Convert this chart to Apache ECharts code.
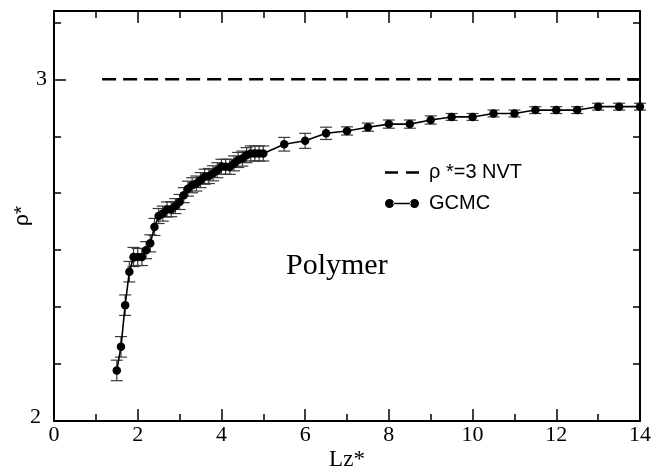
<!DOCTYPE html>
<html>
<head>
<meta charset="utf-8">
<script src="https://cdn.jsdelivr.net/npm/echarts@6/dist/echarts.min.js"></script>
<style>
  html, body { margin: 0; padding: 0; background: #fff; }
  #chart { width: 653px; height: 469px; }
</style>
</head>
<body>
<div id="chart"></div>
<script>
// Slit width Lz* (reduced units)
const lz = [1.5, 1.6, 1.7, 1.8, 1.9, 2.0, 2.1, 2.2, 2.3, 2.4,
            2.5, 2.6, 2.7, 2.8, 2.9, 3.0, 3.1, 3.2, 3.3, 3.4,
            3.5, 3.6, 3.7, 3.8, 3.9, 4.0, 4.1, 4.2, 4.3, 4.4,
            4.5, 4.6, 4.7, 4.8, 4.9, 5.0, 5.5, 6.0, 6.5, 7.0,
            7.5, 8.0, 8.5, 9.0, 9.5, 10.0, 10.5, 11.0, 11.5, 12.0,
            12.5, 13.0, 13.5, 14.0];
// GCMC average density rho*
const rho = [2.148, 2.217, 2.339, 2.437, 2.480, 2.480, 2.480, 2.500, 2.520, 2.568,
             2.600, 2.607, 2.619, 2.620, 2.629, 2.641, 2.661, 2.680, 2.690, 2.695,
             2.705, 2.715, 2.717, 2.725, 2.734, 2.744, 2.744, 2.744, 2.754, 2.764,
             2.768, 2.778, 2.783, 2.783, 2.783, 2.783, 2.810, 2.820, 2.842, 2.849,
             2.860, 2.869, 2.869, 2.881, 2.890, 2.890, 2.900, 2.900, 2.910, 2.910,
             2.910, 2.920, 2.920, 2.920];
// half-width of the error bars
const rhoErr = [0.030, 0.030, 0.030, 0.030, 0.028, 0.025, 0.025, 0.025, 0.025, 0.025,
                0.022, 0.022, 0.022, 0.022, 0.022, 0.022, 0.022, 0.022, 0.022, 0.022,
                0.022, 0.022, 0.022, 0.022, 0.022, 0.022, 0.022, 0.022, 0.022, 0.022,
                0.022, 0.022, 0.022, 0.022, 0.022, 0.022, 0.020, 0.022, 0.018, 0.012,
                0.012, 0.012, 0.012, 0.012, 0.010, 0.010, 0.010, 0.010, 0.010, 0.010,
                0.010, 0.010, 0.010, 0.010];
// bulk NVT reference density
const nvtRho = 3;
const nvtRange = [1.15, 14];

const xTickLabels = ['0', '2', '4', '6', '8', '10', '12', '14'];
const yTickLabels = { 2: '2', 3: '3' };

const serif = '"Liberation Serif", "Times New Roman", serif';
const sans = '"Liberation Sans", Arial, sans-serif';

const gcmcPoints = lz.map((x, i) => [x, rho[i]]);
const errPoints = lz.map((x, i) => [x, rho[i], rhoErr[i]]);

const chart = echarts.init(document.getElementById('chart'), null, { renderer: 'canvas' });

const frameLine = { show: true, onZero: false, lineStyle: { color: '#000', width: 2 } };

function xAxisBase(pos, labels) {
  return {
    type: 'value', position: pos, min: 0, max: 14, interval: 2,
    axisLine: frameLine,
    axisTick: { show: true, inside: true, length: 12, lineStyle: { color: '#000', width: 1.5 } },
    minorTick: { show: true, splitNumber: 2, length: 7, lineStyle: { color: '#000', width: 1.5 } },
    splitLine: { show: false },
    axisLabel: labels ? {
      show: true, margin: 3, color: '#000', fontFamily: serif, fontSize: 22,
      formatter: v => xTickLabels[Math.round(v / 2)] || ''
    } : { show: false }
  };
}
function yAxisBase(pos, labels) {
  return {
    type: 'value', position: pos, min: 2, max: 3.2, interval: 1,
    axisLine: frameLine,
    axisTick: { show: true, inside: true, length: 12, lineStyle: { color: '#000', width: 1.5 } },
    minorTick: { show: true, splitNumber: 6, length: 7, lineStyle: { color: '#000', width: 1.5 } },
    splitLine: { show: false },
    axisLabel: labels ? {
      show: true, margin: 7, color: '#000', fontFamily: serif, fontSize: 22,
      formatter: v => {
        const k = Math.round(v * 1000) / 1000;
        if (k === 2) return '{low|' + yTickLabels[2] + '}';
        return yTickLabels[k] || '';
      },
      rich: { low: { fontFamily: serif, fontSize: 22, color: '#000', padding: [0, 6, 7, 0] } }
    } : { show: false }
  };
}

const xMain = xAxisBase('bottom', true);
xMain.name = 'Lz*';
xMain.nameLocation = 'middle';
xMain.nameGap = 27;
xMain.nameMoveOverlap = false;
xMain.nameTextStyle = { fontFamily: serif, fontSize: 23, color: '#000' };

const yMain = yAxisBase('left', true);
yMain.name = 'ρ*';
yMain.nameLocation = 'middle';
yMain.nameRotate = 90;
yMain.nameGap = 21;
yMain.nameMoveOverlap = false;
yMain.nameTextStyle = { fontFamily: sans, fontSize: 21, color: '#000' };

// legend glyphs: two dashes, and dot-line-dot
const nvtIcon = 'path://M0,0L0.01,0L0.01,0.01Z M0,3.2L13,3.2L13,5.8L0,5.8Z M21,3.2L34,3.2L34,5.8L21,5.8Z M33.99,8.99L34,8.99L34,9Z';
const gcmcIcon = 'path://M0,4.5a4.5,4.5 0 1,0 9,0a4.5,4.5 0 1,0 -9,0z M8,3.8L26,3.8L26,5.2L8,5.2z M25,4.5a4.5,4.5 0 1,0 9,0a4.5,4.5 0 1,0 -9,0z';

chart.setOption({
  animation: false,
  backgroundColor: '#fff',
  grid: { left: 54, right: 13, top: 11, bottom: 48, containLabel: false, outerBoundsMode: 'none' },
  xAxis: [xMain, xAxisBase('top', false)],
  yAxis: [yMain, yAxisBase('right', false)],
  legend: {
    orient: 'vertical', left: 385, top: 162, itemGap: 10, padding: 0,
    itemWidth: 34, itemHeight: 9,
    textStyle: { fontFamily: sans, fontSize: 20, color: '#000', padding: [0, 0, 0, 5], lineHeight: 21 },
    data: [
      { name: 'ρ *=3 NVT', icon: nvtIcon },
      { name: 'GCMC', icon: gcmcIcon }
    ]
  },
  graphic: [{
    type: 'text', left: 286, top: 251,
    style: { text: 'Polymer', fontFamily: serif, fontSize: 30, fill: '#000' }
  }],
  series: [
    {
      name: 'ρ *=3 NVT', type: 'line', xAxisIndex: 0, yAxisIndex: 0,
      data: [[nvtRange[0], nvtRho], [nvtRange[1], nvtRho]],
      showSymbol: false, symbol: 'none',
      lineStyle: { color: '#000', width: 2.5, type: [14, 7] },
      itemStyle: { color: '#000' }, z: 3
    },
    {
      name: 'GCMC-err', type: 'custom', xAxisIndex: 0, yAxisIndex: 0,
      data: errPoints,
      renderItem: function (params, api) {
        const x = api.value(0), y = api.value(1), e = api.value(2);
        const lo = api.coord([x, y - e]);
        const hi = api.coord([x, y + e]);
        const half = 6;
        const st = { stroke: '#3a3a3a', lineWidth: 1.2 };
        return {
          type: 'group',
          children: [
            { type: 'line', shape: { x1: lo[0], y1: lo[1], x2: hi[0], y2: hi[1] }, style: st },
            { type: 'line', shape: { x1: lo[0] - half, y1: lo[1], x2: lo[0] + half, y2: lo[1] }, style: st },
            { type: 'line', shape: { x1: hi[0] - half, y1: hi[1], x2: hi[0] + half, y2: hi[1] }, style: st }
          ]
        };
      },
      silent: true, z: 4
    },
    {
      name: 'GCMC', type: 'line', xAxisIndex: 0, yAxisIndex: 0,
      data: gcmcPoints,
      symbol: 'circle', symbolSize: 8.5, showSymbol: true,
      lineStyle: { color: '#000', width: 1.6 },
      itemStyle: { color: '#000' }, z: 5
    }
  ]
});
</script>
</body>
</html>
